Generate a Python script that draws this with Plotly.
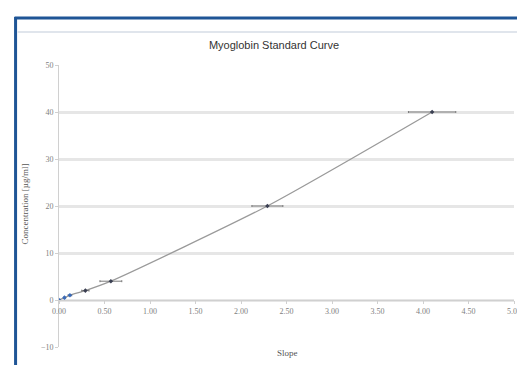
import plotly.graph_objects as go

# Data
slope = [0.00, 0.06, 0.12, 0.29, 0.57, 2.29, 4.10]
concentration = [0.0, 0.5, 1.0, 2.0, 4.0, 20.0, 40.0]
slope_err = [0.01, 0.01, 0.02, 0.04, 0.12, 0.17, 0.26]

x_ticks = [0.0, 0.5, 1.0, 1.5, 2.0, 2.5, 3.0, 3.5, 4.0, 4.5, 5.0]
x_tick_labels = ["0.00", "0.50", "1.00", "1.50", "2.00", "2.50", "3.00", "3.50", "4.00", "4.50", "5.00"]
y_ticks = [-10, 0, 10, 20, 30, 40, 50]

W, H = 525, 365
L, R, T, B = 51, 13, 57, 26
pw, ph = W - L - R, H - T - B

def px_x(p):
    return (p - L) / pw

def px_y(p):
    return (H - B - p) / ph

fig = go.Figure()

# smoothed connecting line
fig.add_trace(go.Scatter(
    x=slope, y=concentration, mode="lines",
    line=dict(color="#9a9a9a", width=1.3, shape="spline", smoothing=0.6),
    hoverinfo="skip", showlegend=False,
))

# markers with horizontal error bars
fig.add_trace(go.Scatter(
    x=slope, y=concentration, mode="markers",
    marker=dict(color=["#3a6ab8", "#3a6ab8", "#3a6ab8", "#3a3f52", "#3a3f52", "#3a3f52", "#3a3f52"],
                size=3.5, symbol="diamond"),
    error_x=dict(type="data", array=slope_err, visible=True, color="#7a7a7a",
                 thickness=1, width=1),
    showlegend=False,
))

fig.update_layout(
    width=W, height=H,
    margin=dict(l=L, r=R, t=T, b=B),
    paper_bgcolor="white", plot_bgcolor="white",
    showlegend=False,
    title=dict(text="Myoglobin Standard Curve", x=266 / W, xanchor="center",
               y=1 - 37 / H, yanchor="middle", yref="container",
               font=dict(family="Liberation Sans Narrow, Liberation Sans, Arial", size=11, color="#333333")),
    xaxis=dict(range=[0, 5], tickvals=x_ticks, ticktext=x_tick_labels,
               anchor="free", position=10 / 60,
               showgrid=False, zeroline=False,
               showline=True, linecolor="#d0d0d0", linewidth=1,
               ticks="outside", ticklen=3, tickcolor="#d0d0d0",
               ticklabeloverflow="allow",
               tickfont=dict(family="Liberation Serif, serif", size=8, color="#808080")),
    yaxis=dict(range=[-10, 50], tickvals=y_ticks,
               showgrid=True, gridcolor="#e6e6e6", gridwidth=2.5,
               zeroline=False,
               showline=True, linecolor="#d0d0d0", linewidth=1,
               ticks="outside", ticklen=3, tickcolor="#d0d0d0",
               tickfont=dict(family="Liberation Serif, serif", size=8, color="#808080")),
    annotations=[
        dict(text="Slope", x=px_x(283), y=px_y(345), xref="paper", yref="paper",
             showarrow=False, xanchor="center", yanchor="middle",
             font=dict(family="Liberation Serif, serif", size=9, color="#555555")),
        dict(text="Concentration [µg/ml]", x=px_x(17), y=px_y(196), xref="paper", yref="paper",
             showarrow=False, textangle=-90, xanchor="center", yanchor="middle",
             font=dict(family="Liberation Serif, serif", size=9, color="#555555")),
    ],
    shapes=[
        # blue outer frame (left and top)
        dict(type="line", xref="paper", yref="paper",
             x0=px_x(7), x1=px_x(7), y0=px_y(370), y1=px_y(9),
             line=dict(color="#1f5596", width=3)),
        dict(type="line", xref="paper", yref="paper",
             x0=px_x(6), x1=px_x(530), y0=px_y(10), y1=px_y(10),
             line=dict(color="#1f5596", width=3)),
        # light inner line
        dict(type="line", xref="paper", yref="paper",
             x0=px_x(9), x1=px_x(530), y0=px_y(24), y1=px_y(24),
             line=dict(color="#d6dde6", width=1.5)),
    ],
)

fig.write_html("out.html")
